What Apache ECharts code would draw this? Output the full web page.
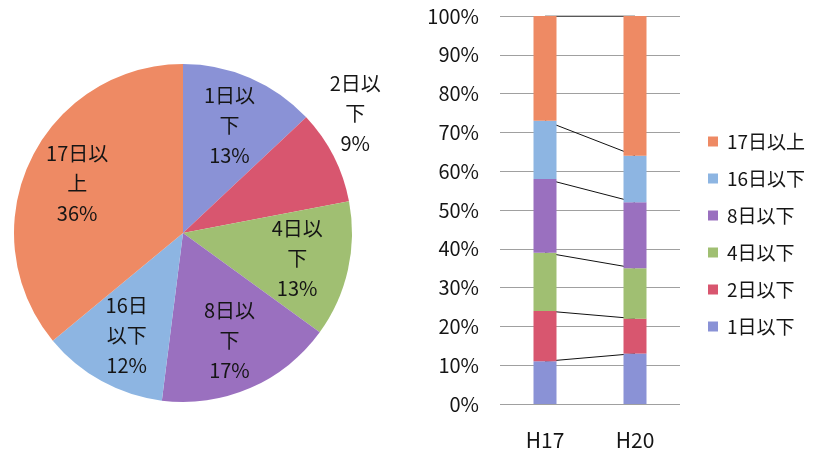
<!DOCTYPE html>
<html>
<head>
<meta charset="utf-8">
<script src="https://cdn.jsdelivr.net/npm/echarts@6/dist/echarts.min.js"></script>
<style>
  html, body { margin: 0; padding: 0; background: #fff; }
  #main { width: 822px; height: 457px; }
</style>
</head>
<body>
<div id="main"></div>
<script>
// 数据
var names = ['1日以下', '2日以下', '4日以下', '8日以下', '16日以下', '17日以上'];
var pieLabels = ['1日以\n下', '2日以\n下', '4日以\n下', '8日以\n下', '16日\n以下', '17日以\n上'];
var years = ['H17', 'H20'];
var h17 = [11, 13, 15, 19, 15, 27];
var h20 = [13, 9, 13, 17, 12, 36];
var yTicks = [0, 10, 20, 30, 40, 50, 60, 70, 80, 90, 100];
var colors = ['#8a92d6', '#d8566f', '#a0bf72', '#9a70bf', '#8db5e2', '#ee8a64'];

(function() {
  var myChart = echarts.init(document.getElementById('main'));
  var font = '"Noto Sans CJK JP", "Noto Sans", sans-serif';

  var series = [];
  // 积み上げ棒
  names.forEach(function(n, i) {
    series.push({
      name: n,
      type: 'bar',
      stack: 'bar',
      barWidth: 23,
      z: 3,
      itemStyle: { color: colors[i] },
      data: [h17[i], h20[i]]
    });
  });
  // 区分線 (棒の裏側)
  names.forEach(function(n, i) {
    series.push({
      name: 'line' + i,
      type: 'line',
      stack: 'line',
      z: 1,
      silent: true,
      symbol: 'none',
      lineStyle: { color: '#111', width: 1 },
      data: [h17[i], h20[i]]
    });
  });
  var pieData = names.map(function(n, i) {
    return { name: n, value: h20[i], itemStyle: { color: colors[i] } };
  });
  // 円グラフ
  series.push({
    type: 'pie',
    center: [183, 233],
    radius: 169,
    startAngle: 90,
    clockwise: true,
    label: { show: false },
    labelLine: { show: false },
    data: pieData
  });
  // ラベル用の透明な円
  series.push({
    type: 'pie',
    center: [183, 233],
    radius: [56, 172],
    startAngle: 90,
    clockwise: true,
    silent: true,
    z: 5,
    itemStyle: { color: 'transparent' },
    labelLine: { show: false },
    label: {
      show: true,
      position: 'inside',
      color: '#151515',
      fontFamily: font,
      fontSize: 20,
      lineHeight: 30,
      align: 'center',
      formatter: function(p) {
        return pieLabels[p.dataIndex] + '\n' + p.value + '%';
      }
    },
    labelLayout: function(p) {
      if (p.dataIndex === 1) return { dx: 68, dy: -66 };
    },
    data: names.map(function(n, i) { return { name: n, value: h20[i] }; })
  });

  var option = {
    animation: false,
    color: colors,
    legend: {
      data: names.slice().reverse(),
      orient: 'vertical',
      left: 703,
      top: 127,
      itemWidth: 10,
      itemHeight: 10,
      itemGap: 18,
      icon: 'rect',
      textStyle: { fontFamily: font, fontSize: 19, color: '#151515', padding: [0, 0, 0, 4] }
    },
    grid: { left: 500, right: 142, top: 16, bottom: 53 },
    xAxis: {
      type: 'category',
      data: years,
      axisLine: { show: false },
      axisTick: { show: false },
      axisLabel: { fontFamily: font, fontSize: 21, color: '#151515', margin: 26 }
    },
    yAxis: {
      type: 'value',
      min: 0,
      max: 100,
      interval: 10,
      axisLine: { show: false },
      axisTick: { show: false },
      axisLabel: {
        fontFamily: font,
        fontSize: 20,
        color: '#151515',
        margin: 21,
        formatter: function(v) { return yTicks.indexOf(v) >= 0 ? v + '%' : ''; }
      },
      splitLine: { lineStyle: { color: '#a0a0a0', width: 1 } }
    },
    series: series
  };
  myChart.setOption(option);
  window.addEventListener('resize', function() {
    myChart.resize();
  });
})();
</script>
</body>
</html>
